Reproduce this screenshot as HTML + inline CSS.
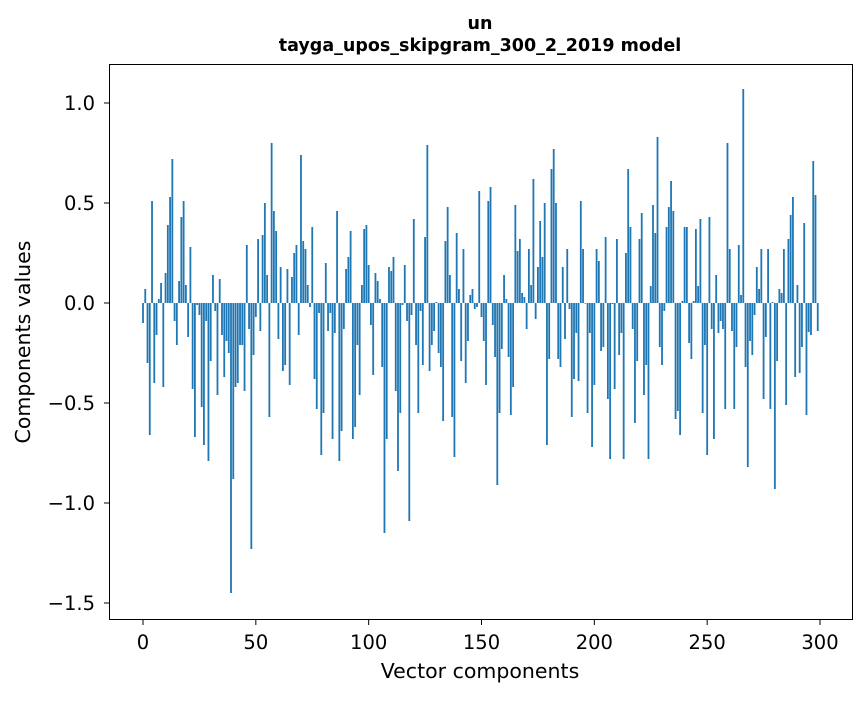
<!DOCTYPE html>
<html><head><meta charset="utf-8"><style>
body{margin:0;background:#fff;}
svg text{font-family:"DejaVu Sans","Liberation Sans",sans-serif;fill:#000;}
</style></head><body>
<svg id="chart" width="867" height="696" viewBox="0 0 867 696" xmlns="http://www.w3.org/2000/svg">
<rect width="867" height="696" fill="#fff"/>
<text x="480" y="29" text-anchor="middle" font-size="17.5" font-weight="bold">un</text>
<text x="480" y="51" text-anchor="middle" font-size="17.5" font-weight="bold">tayga_upos_skipgram_300_2_2019 model</text>
<g id="bars"></g>
<g id="xticks"></g>
<g id="yticks"></g>
<rect x="109.5" y="64.5" width="743" height="555" fill="none" stroke="#000" stroke-width="1"/>
<text x="480" y="678" text-anchor="middle" font-size="20.5">Vector components</text>
<text x="30" y="342" text-anchor="middle" font-size="20.5" transform="rotate(-90 30 342)">Components values</text>
</svg>
<script>
const values = [
-0.10,0.07,-0.30,-0.66,0.51,-0.40,-0.16,0.02,0.10,-0.42,
0.15,0.39,0.53,0.72,-0.09,-0.21,0.11,0.43,0.51,0.09,
-0.17,0.28,-0.43,-0.67,-0.01,-0.06,-0.52,-0.71,-0.09,-0.79,
-0.29,0.14,-0.04,-0.46,0.12,-0.16,-0.37,-0.19,-0.25,-1.45,
-0.88,-0.42,-0.40,-0.21,-0.21,-0.44,0.29,-0.13,-1.23,-0.26,
-0.07,0.32,-0.14,0.34,0.50,0.14,-0.57,0.80,0.46,0.36,
-0.18,0.18,-0.34,-0.31,0.17,-0.41,0.13,0.25,0.29,-0.16,
0.74,0.31,0.27,0.09,-0.02,0.38,-0.38,-0.53,-0.05,-0.76,
-0.55,0.20,-0.14,-0.05,-0.68,-0.15,0.46,-0.79,-0.64,-0.13,
0.17,0.23,0.36,-0.68,-0.62,-0.21,-0.46,0.09,0.37,0.39,
0.19,-0.11,-0.36,0.15,0.11,0.02,-0.32,-1.15,-0.68,0.18,
0.16,0.23,-0.44,-0.84,-0.55,-0.01,0.19,-0.09,-1.09,-0.06,
0.42,-0.21,-0.55,-0.04,-0.31,0.33,0.79,-0.34,-0.21,-0.14,
0.005,-0.25,-0.32,-0.59,0.31,0.48,0.14,-0.57,-0.77,0.35,
0.07,-0.29,0.27,-0.40,-0.19,0.04,0.07,-0.03,-0.02,0.56,
-0.07,-0.19,-0.41,0.51,0.58,-0.11,-0.27,-0.91,-0.55,-0.23,
0.14,0.02,-0.27,-0.56,-0.42,0.49,0.26,0.32,0.05,0.03,
-0.13,0.27,0.09,0.62,-0.08,0.18,0.41,0.23,0.50,-0.71,
-0.28,0.67,0.77,0.50,-0.28,-0.32,0.18,-0.18,0.27,-0.03,
-0.57,-0.38,-0.15,-0.39,0.51,0.27,-0.003,-0.55,-0.15,-0.72,
-0.41,0.27,0.21,-0.24,-0.22,0.33,-0.48,-0.78,-0.005,-0.43,
0.32,-0.26,-0.15,-0.78,0.25,0.67,0.38,-0.13,-0.60,-0.29,
0.32,0.45,-0.46,-0.31,-0.78,0.085,0.49,0.35,0.83,-0.22,
-0.31,-0.04,0.38,0.48,0.61,0.46,-0.58,-0.54,-0.66,0.01,
0.38,0.38,-0.20,-0.28,0.01,0.37,0.085,0.42,-0.55,-0.21,
-0.76,0.43,-0.13,-0.68,0.14,-0.15,-0.09,-0.13,-0.53,0.80,
0.27,-0.14,-0.53,-0.22,0.29,0.04,1.07,-0.32,-0.82,-0.19,
-0.26,-0.06,0.18,0.07,0.27,-0.48,-0.17,0.27,-0.53,0.005,
-0.93,-0.29,0.07,0.05,0.27,-0.51,0.32,0.44,0.53,-0.37,
0.09,-0.35,-0.22,0.40,-0.56,-0.145,-0.16,0.71,0.54,-0.14
];
const xTickValues = [0,50,100,150,200,250,300];
const yTickValues = [1.0,0.5,0.0,-0.5,-1.0,-1.5];
const yTickLabels = ["1.0","0.5","0.0","\u22120.5","\u22121.0","\u22121.5"];

const NS = "http://www.w3.org/2000/svg";
function xScale(i){ return 143 + i * (677/300); }
function yScale(v){ return 303 - v * 200; }
const barW = 0.8 * 677/300;

const gb = document.getElementById('bars');
values.forEach((v,i)=>{
  const r = document.createElementNS(NS,'rect');
  const y0 = yScale(0), y1 = yScale(v);
  r.setAttribute('x', xScale(i) - barW/2);
  r.setAttribute('y', Math.min(y0,y1));
  r.setAttribute('width', barW);
  r.setAttribute('height', Math.max(Math.abs(y1-y0),0.3));
  r.setAttribute('fill', '#1f77b4');
  
  
  gb.appendChild(r);
});

const gx = document.getElementById('xticks');
xTickValues.forEach(t=>{
  const x = xScale(t);
  const l = document.createElementNS(NS,'line');
  l.setAttribute('x1',x); l.setAttribute('x2',x);
  l.setAttribute('y1',620); l.setAttribute('y2',625);
  l.setAttribute('stroke','#000');
  
  
  gx.appendChild(l);
  const tx = document.createElementNS(NS,'text');
  tx.setAttribute('x',x); tx.setAttribute('y',649);
  tx.setAttribute('text-anchor','middle');
  tx.setAttribute('font-size','19.5');
  tx.textContent = String(t);
  
  
  gx.appendChild(tx);
});

const gy = document.getElementById('yticks');
yTickValues.forEach((t,k)=>{
  const y = yScale(t);
  const l = document.createElementNS(NS,'line');
  l.setAttribute('x1',104); l.setAttribute('x2',109);
  l.setAttribute('y1',y); l.setAttribute('y2',y);
  l.setAttribute('stroke','#000');
  
  
  gy.appendChild(l);
  const tx = document.createElementNS(NS,'text');
  tx.setAttribute('x',95); tx.setAttribute('y',y+7);
  tx.setAttribute('text-anchor','end');
  tx.setAttribute('font-size','19.5');
  tx.textContent = yTickLabels[k];
  
  
  gy.appendChild(tx);
});
</script>
</body></html>
